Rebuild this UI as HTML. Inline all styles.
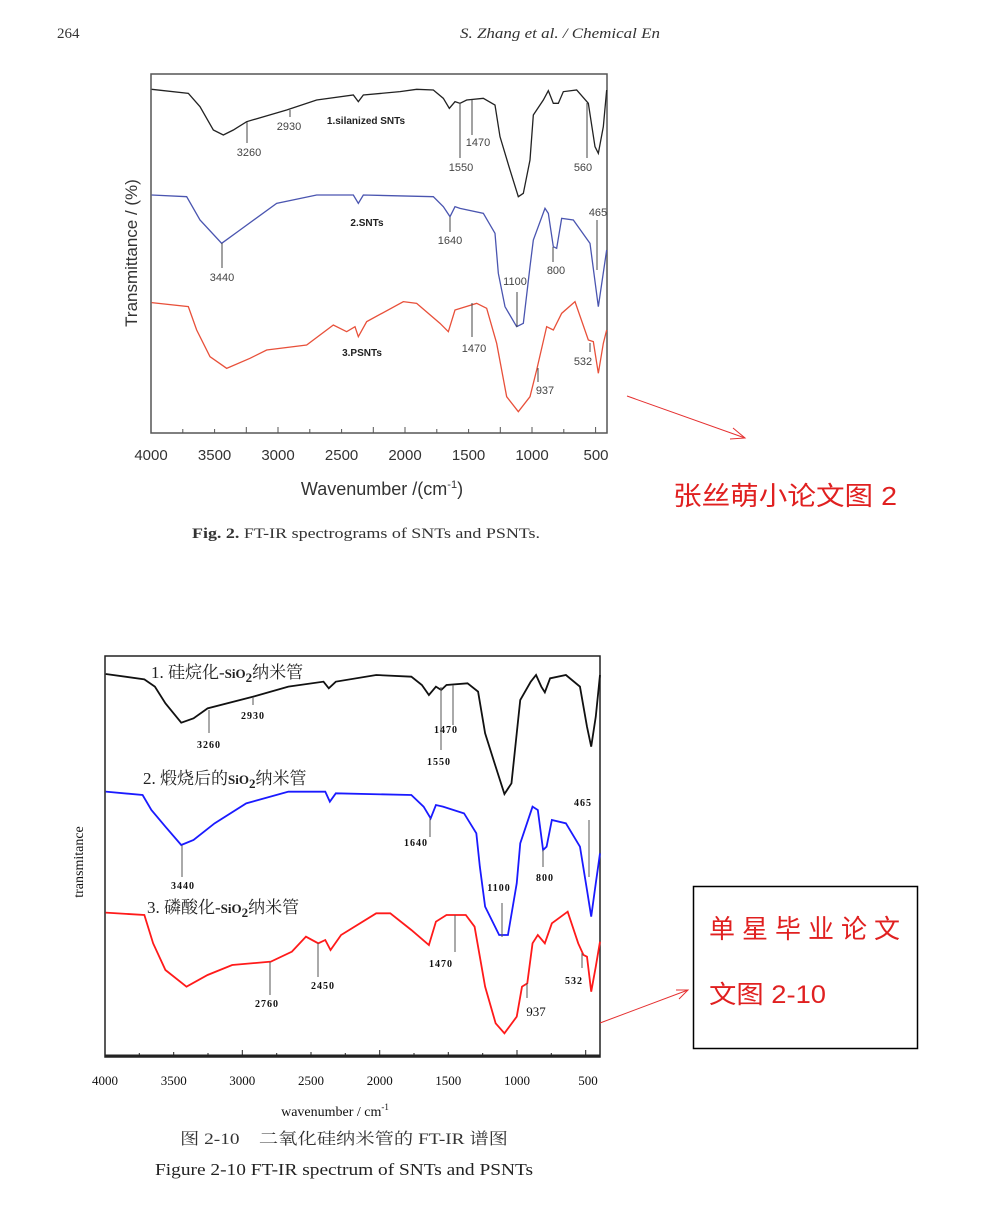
<!DOCTYPE html>
<html><head><meta charset="utf-8"><style>
html,body{margin:0;padding:0;background:#fff;}
svg{display:block}
</style></head><body>
<svg width="996" height="1213" viewBox="0 0 996 1213" xmlns="http://www.w3.org/2000/svg">
<rect width="996" height="1213" fill="#fff"/>
<text x="57" y="38" font-family="Liberation Serif, serif" font-size="15" fill="#333">264</text>
<text x="460" y="38" font-family="Liberation Serif, serif" font-size="15" font-style="italic" fill="#333" textLength="200" lengthAdjust="spacingAndGlyphs">S. Zhang et al. / Chemical En</text>

<!-- TOP CHART -->
<rect x="151" y="74" width="456" height="359" fill="none" stroke="#555" stroke-width="1.5"/>
<g stroke="#555" stroke-width="1">
<line x1="151" y1="433" x2="151" y2="427"/><line x1="214.6" y1="433" x2="214.6" y2="429"/><line x1="278" y1="433" x2="278" y2="427"/><line x1="341.6" y1="433" x2="341.6" y2="429"/><line x1="405" y1="433" x2="405" y2="427"/><line x1="468.6" y1="433" x2="468.6" y2="429"/><line x1="532" y1="433" x2="532" y2="427"/><line x1="595.6" y1="433" x2="595.6" y2="427"/>
<line x1="246.3" y1="433" x2="246.3" y2="427"/><line x1="373.3" y1="433" x2="373.3" y2="427"/><line x1="500.3" y1="433" x2="500.3" y2="427"/><line x1="182.8" y1="433" x2="182.8" y2="429"/><line x1="309.8" y1="433" x2="309.8" y2="429"/><line x1="436.8" y1="433" x2="436.8" y2="429"/><line x1="563.8" y1="433" x2="563.8" y2="429"/>
</g>
<g font-family="Liberation Sans, sans-serif" font-size="15" fill="#333" text-anchor="middle">
<text x="151" y="460">4000</text><text x="214.6" y="460">3500</text><text x="278" y="460">3000</text><text x="341.6" y="460">2500</text><text x="405" y="460">2000</text><text x="468.6" y="460">1500</text><text x="532" y="460">1000</text><text x="596" y="460">500</text>
<text x="382" y="495" font-size="18">Wavenumber /(cm<tspan font-size="11" dy="-7">-1</tspan><tspan dy="7">)</tspan></text>
<text transform="translate(137,253) rotate(-90)" font-size="17">Transmittance / (%)</text>
</g>
<g transform="translate(100,60) scale(0.33333)" fill="none" stroke-width="1.3">
<polyline vector-effect="non-scaling-stroke" stroke="#222" points="155,88 265,100 300,140 340,210 370,225 400,210 440,185 560,150 650,120 760,105 775,125 790,105 900,95 950,88 1000,90 1030,115 1048,145 1065,125 1080,130 1100,120 1150,115 1185,135 1200,230 1230,330 1255,410 1270,400 1290,300 1300,165 1330,120 1345,92 1360,130 1375,130 1390,95 1430,90 1465,130 1485,260 1495,280 1510,200 1520,90"/>
<polyline vector-effect="non-scaling-stroke" stroke="#4a55b0" points="155,405 260,410 300,480 365,550 420,510 530,430 650,405 760,405 775,430 790,405 1000,410 1030,440 1050,470 1065,440 1080,445 1150,460 1185,520 1195,640 1215,740 1250,800 1270,790 1290,620 1300,540 1335,445 1345,460 1360,560 1370,565 1385,475 1420,480 1470,550 1495,740 1520,570"/>
<polyline vector-effect="non-scaling-stroke" stroke="#e8503a" points="155,728 265,740 290,810 330,890 380,925 450,895 500,870 620,855 700,795 740,815 765,800 775,830 800,785 910,725 950,730 1020,790 1045,815 1065,750 1130,730 1160,745 1190,850 1220,1010 1255,1055 1290,1010 1310,930 1340,800 1360,810 1385,760 1425,725 1465,840 1480,845 1495,940 1510,850 1520,810"/>
</g>
<g stroke="#444" stroke-width="1">
<line x1="247" y1="122" x2="247" y2="143"/><line x1="290" y1="110" x2="290" y2="117"/><line x1="460" y1="103" x2="460" y2="158"/><line x1="472" y1="100" x2="472" y2="135"/><line x1="587" y1="103" x2="587" y2="158"/>
<line x1="450" y1="217" x2="450" y2="232"/><line x1="222" y1="243" x2="222" y2="268"/><line x1="517" y1="292" x2="517" y2="327"/><line x1="553" y1="247" x2="553" y2="262"/><line x1="597" y1="220" x2="597" y2="270"/>
<line x1="472" y1="303" x2="472" y2="337"/><line x1="538" y1="368" x2="538" y2="382"/><line x1="590" y1="343" x2="590" y2="352"/>
</g>
<g font-family="Liberation Sans, sans-serif" font-size="11" fill="#444" text-anchor="middle">
<text x="249" y="156">3260</text><text x="289" y="130">2930</text><text x="461" y="171">1550</text><text x="478" y="146">1470</text><text x="583" y="171">560</text>
<text x="450" y="244">1640</text><text x="222" y="281">3440</text><text x="515" y="285">1100</text><text x="556" y="274">800</text><text x="598" y="216">465</text>
<text x="474" y="352">1470</text><text x="545" y="394">937</text><text x="583" y="365">532</text>
<g font-weight="bold" font-size="10" fill="#222"><text x="366" y="124">1.silanized SNTs</text><text x="367" y="226">2.SNTs</text><text x="362" y="356">3.PSNTs</text></g>
</g>
<text x="192" y="538" font-family="Liberation Serif, serif" font-size="15" fill="#333" textLength="348" lengthAdjust="spacingAndGlyphs"><tspan font-weight="bold">Fig. 2.</tspan> FT-IR spectrograms of SNTs and PSNTs.</text>
<line x1="627" y1="396" x2="745" y2="438" stroke="#e53030" stroke-width="1"/>
<polyline points="733,428 745,438 730,439" fill="none" stroke="#e53030" stroke-width="1"/>
<text x="673" y="505" font-family="Liberation Sans, 'Noto Sans CJK SC', sans-serif" font-size="26" fill="#e02020" textLength="224" lengthAdjust="spacingAndGlyphs">张丝萌小论文图 2</text>

<!-- BOTTOM CHART -->
<rect x="105" y="656" width="495" height="401" fill="none" stroke="#222" stroke-width="1.5"/>
<line x1="105" y1="1056" x2="600" y2="1056" stroke="#222" stroke-width="3"/>
<g stroke="#222" stroke-width="1">
<line x1="105" y1="1057" x2="105" y2="1050"/><line x1="173.7" y1="1057" x2="173.7" y2="1052"/><line x1="242.3" y1="1057" x2="242.3" y2="1050"/><line x1="311" y1="1057" x2="311" y2="1052"/><line x1="379.7" y1="1057" x2="379.7" y2="1050"/><line x1="448.3" y1="1057" x2="448.3" y2="1052"/><line x1="517" y1="1057" x2="517" y2="1050"/><line x1="585.7" y1="1057" x2="585.7" y2="1050"/>
<line x1="139.3" y1="1057" x2="139.3" y2="1053"/><line x1="208" y1="1057" x2="208" y2="1053"/><line x1="276.7" y1="1057" x2="276.7" y2="1053"/><line x1="345.3" y1="1057" x2="345.3" y2="1053"/><line x1="414" y1="1057" x2="414" y2="1053"/><line x1="482.7" y1="1057" x2="482.7" y2="1053"/><line x1="551.3" y1="1057" x2="551.3" y2="1053"/>
</g>
<g font-family="Liberation Serif, serif" font-size="13" fill="#111" text-anchor="middle">
<text x="105" y="1085">4000</text><text x="173.7" y="1085">3500</text><text x="242.3" y="1085">3000</text><text x="311" y="1085">2500</text><text x="379.7" y="1085">2000</text><text x="448.3" y="1085">1500</text><text x="517" y="1085">1000</text><text x="588" y="1085">500</text>
<text x="335" y="1116" font-size="14">wavenumber / cm<tspan font-size="9" dy="-6">-1</tspan></text>
<text transform="translate(83,862) rotate(-90)" font-size="14">transmitance</text>
</g>
<g transform="translate(60.04,650) scale(0.3513,0.33333)" fill="none">
<polyline vector-effect="non-scaling-stroke" stroke-width="1.8" stroke="#111" points="130,72 240,88 270,110 300,160 345,218 380,205 420,175 550,140 650,110 750,95 765,115 785,95 900,75 1000,80 1030,105 1050,135 1070,110 1085,120 1100,105 1160,100 1190,125 1210,250 1240,350 1265,432 1285,400 1300,250 1310,150 1340,95 1355,75 1370,110 1380,127 1395,85 1440,75 1480,110 1500,230 1512,290 1525,200 1537,75"/>
<polyline vector-effect="non-scaling-stroke" stroke-width="1.8" stroke="#1a1aff" points="130,425 235,435 260,480 300,530 345,585 380,570 440,520 530,460 650,425 755,425 768,455 785,430 1000,435 1035,470 1055,505 1070,465 1090,470 1150,490 1185,550 1195,650 1210,770 1250,855 1275,855 1300,700 1310,580 1345,470 1360,480 1375,600 1385,590 1400,510 1440,520 1480,590 1500,720 1512,800 1525,700 1537,610"/>
<polyline vector-effect="non-scaling-stroke" stroke-width="1.8" stroke="#ff1a1a" points="130,788 240,795 265,880 300,960 360,1010 420,975 490,945 600,935 660,905 700,860 735,880 755,870 770,900 800,855 900,790 940,790 1000,840 1050,885 1070,815 1100,795 1155,795 1180,830 1210,1010 1240,1120 1265,1150 1300,1100 1315,1010 1330,1000 1345,880 1360,855 1380,880 1400,820 1445,785 1475,880 1490,915 1500,920 1512,1025 1525,950 1537,875"/>
</g>
<g stroke="#555" stroke-width="1">
<line x1="209" y1="710" x2="209" y2="733"/><line x1="253" y1="697" x2="253" y2="705"/><line x1="453" y1="685" x2="453" y2="725"/><line x1="441" y1="687" x2="441" y2="750"/>
<line x1="430" y1="818" x2="430" y2="837"/><line x1="182" y1="845" x2="182" y2="877"/><line x1="502" y1="903" x2="502" y2="937"/><line x1="543" y1="850" x2="543" y2="867"/><line x1="589" y1="820" x2="589" y2="877"/>
<line x1="270" y1="962" x2="270" y2="995"/><line x1="318" y1="943" x2="318" y2="977"/><line x1="455" y1="915" x2="455" y2="952"/><line x1="527" y1="983" x2="527" y2="998"/><line x1="582" y1="953" x2="582" y2="968"/>
</g>
<g font-family="Liberation Serif, serif" font-size="10" font-weight="bold" fill="#111" text-anchor="middle" letter-spacing="1">
<text x="209" y="748">3260</text><text x="253" y="719">2930</text><text x="446" y="733">1470</text><text x="439" y="765">1550</text>
<text x="416" y="846">1640</text><text x="183" y="889">3440</text><text x="499" y="891">1100</text><text x="545" y="881">800</text><text x="583" y="806">465</text>
<text x="267" y="1007">2760</text><text x="323" y="989">2450</text><text x="441" y="967">1470</text><text x="574" y="984">532</text>
<text x="536" y="1016" font-size="13" font-weight="normal" letter-spacing="0">937</text>
</g>
<g font-family="Liberation Serif, 'Noto Serif CJK SC', serif" font-size="17" fill="#222">
<text x="151" y="678">1. 硅烷化-<tspan font-weight="bold" font-size="13">SiO</tspan><tspan font-weight="bold" font-size="13" dy="4">2</tspan><tspan dy="-4">纳米管</tspan></text>
<text x="143" y="784">2. 煅烧后的<tspan font-weight="bold" font-size="13">SiO</tspan><tspan font-weight="bold" font-size="13" dy="4">2</tspan><tspan dy="-4">纳米管</tspan></text>
<text x="147" y="913">3. 磷酸化-<tspan font-weight="bold" font-size="13">SiO</tspan><tspan font-weight="bold" font-size="13" dy="4">2</tspan><tspan dy="-4">纳米管</tspan></text>
</g>
<text x="180" y="1144" font-family="Liberation Serif, 'Noto Serif CJK SC', serif" font-size="16" fill="#333" textLength="328" lengthAdjust="spacingAndGlyphs">图 2-10　二氧化硅纳米管的 FT-IR 谱图</text>
<text x="155" y="1175" font-family="Liberation Serif, serif" font-size="17" fill="#222" textLength="378" lengthAdjust="spacingAndGlyphs">Figure 2-10 FT-IR spectrum of SNTs and PSNTs</text>
<line x1="600" y1="1023" x2="688" y2="990" stroke="#e53030" stroke-width="1"/>
<polyline points="676,990 688,990 679,999" fill="none" stroke="#e53030" stroke-width="1"/>
<rect x="693.5" y="886.5" width="224" height="162" fill="none" stroke="#000" stroke-width="1.5"/>
<text x="709" y="938" font-family="Liberation Sans, 'Noto Sans CJK SC', sans-serif" font-size="26" fill="#e02020" textLength="191" lengthAdjust="spacing">单星毕业论文</text>
<text x="709" y="1003" font-family="Liberation Sans, 'Noto Sans CJK SC', sans-serif" font-size="25" fill="#e02020" textLength="117" lengthAdjust="spacingAndGlyphs">文图 2-10</text>
</svg>
</body></html>
